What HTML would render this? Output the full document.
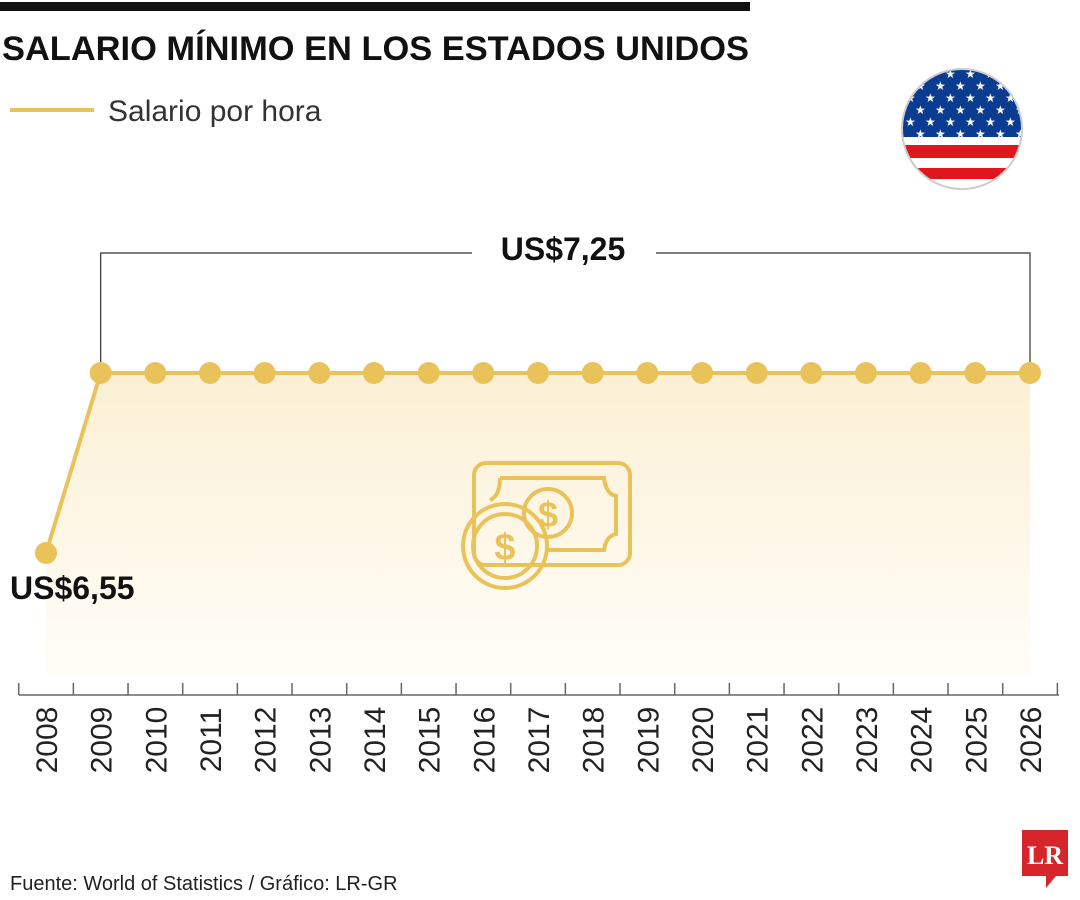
<!DOCTYPE html>
<html><head><meta charset="utf-8"><style>
body{margin:0;background:#fff;}
svg{display:block;font-family:"Liberation Sans",sans-serif;}
</style></head><body>
<svg width="1080" height="900" viewBox="0 0 1080 900">
<defs>
<linearGradient id="fillg" x1="0" y1="0" x2="0" y2="1">
<stop offset="0" stop-color="#fbf0d4"/><stop offset="1" stop-color="#fffdf8"/>
</linearGradient>
<clipPath id="fc"><circle cx="962" cy="129" r="60"/></clipPath>
</defs>
<rect x="0" y="2" width="750" height="9" fill="#111"/>
<text x="2" y="60" font-size="34" font-weight="bold" fill="#111" textLength="747" lengthAdjust="spacingAndGlyphs">SALARIO MÍNIMO EN LOS ESTADOS UNIDOS</text>
<line x1="10" y1="110" x2="94" y2="110" stroke="#e9c35a" stroke-width="4"/>
<text x="108" y="121" font-size="30" fill="#333">Salario por hora</text>
<g clip-path="url(#fc)">
<rect x="900" y="65" width="125" height="130" fill="#fff"/>
<rect x="900" y="65" width="125" height="72" fill="#0a3d91"/>
<rect x="900" y="145" width="125" height="13" fill="#e0161d"/>
<rect x="900" y="168" width="125" height="11" fill="#e0161d"/>
<g fill="#fff" font-size="12" id="stars"></g>
</g>
<circle cx="962" cy="129" r="60" fill="none" stroke="#ccc" stroke-width="2"/>
<g id="plot"></g>
<g fill="none" stroke="#e9c35a" stroke-width="4">
<rect x="474" y="463" width="156" height="102" rx="12"/>
<path d="M500 478 H604 Q606 494 616 496 V534 Q606 536 604 550 H548"/>
<path d="M490 500 Q500 496 500 478"/>
<circle cx="548" cy="513" r="24"/>
<circle cx="505" cy="546" r="42"/>
<circle cx="505" cy="546" r="32"/>
<text x="548" y="527" font-size="36" fill="#e9c35a" stroke="none" text-anchor="middle" font-weight="bold">$</text>
<text x="505" y="560" font-size="38" fill="#e9c35a" stroke="none" text-anchor="middle" font-weight="bold">$</text>
</g>
<text x="10" y="890" font-size="20" fill="#222">Fuente: World of Statistics / Gráfico: LR-GR</text>
<g>
<path d="M1022 830 H1068 V876 H1056 L1046 888 V876 H1022 Z" fill="#d7262b"/>
<text x="1045" y="864" font-size="26" font-weight="bold" fill="#fff" text-anchor="middle" font-family="Liberation Serif,serif">LR</text>
</g>
</svg>
<script>
const years=[2008,2009,2010,2011,2012,2013,2014,2015,2016,2017,2018,2019,2020,2021,2022,2023,2024,2025,2026];
const wages=[6.55,7.25,7.25,7.25,7.25,7.25,7.25,7.25,7.25,7.25,7.25,7.25,7.25,7.25,7.25,7.25,7.25,7.25,7.25];
const NS="http://www.w3.org/2000/svg";
const x=i=>46+i*(1030-46)/18;
const y=v=>373+(7.25-v)*(553-373)/0.7;
function mk(t,a,p){const e=document.createElementNS(NS,t);for(const k in a)e.setAttribute(k,a[k]);p.appendChild(e);return e;}
const st=document.getElementById('stars');
for(let r=0;r<6;r++)for(let c=0;c<7;c++){const t=mk('text',{x:905+c*20+(r%2?10:0),y:78+r*12},st);t.textContent='★';}
const g=document.getElementById('plot');
let d='M'+x(0)+' '+y(wages[0]);wages.forEach((v,i)=>{if(i)d+=' L'+x(i)+' '+y(v);});
const area=mk('path',{d:d+' L'+x(18)+' 675 L'+x(0)+' 675 Z',fill:'url(#fillg)'},g);


const br=mk('path',{d:'M'+x(1)+' 370 V253 H472 M656 253 H'+x(18)+' V370',fill:'none',stroke:'#333','stroke-width':1.2},g);


const bl=mk('text',{x:563,y:260,'font-size':32,'font-weight':'bold','text-anchor':'middle',fill:'#111'},g);
bl.textContent='US$'+wages[18].toFixed(2).replace('.',',');


const ln=mk('path',{d:d,fill:'none',stroke:'#e9c35a','stroke-width':4},g);


wages.forEach((v,i)=>{const c=mk('circle',{cx:x(i),cy:y(v),r:11,fill:'#e9c35a'},g);

});
const ml=mk('text',{x:10,y:599,'font-size':32,'font-weight':'bold',fill:'#111'},g);
ml.textContent='US$'+wages[0].toFixed(2).replace('.',',');


const ax=mk('line',{x1:19,y1:695,x2:1059,y2:695,stroke:'#666','stroke-width':1.5},g);


for(let i=0;i<=19;i++){const tx=x(i)-27.3;mk('line',{x1:tx,y1:683,x2:tx,y2:695,stroke:'#666','stroke-width':1.5},g);}
years.forEach((yr,i)=>{const t=mk('text',{x:0,y:0,'font-size':30,fill:'#222','text-anchor':'middle',transform:'translate('+(x(i)+11)+',740) rotate(-90)'},g);
t.textContent=yr;

});
</script>
</body></html>
